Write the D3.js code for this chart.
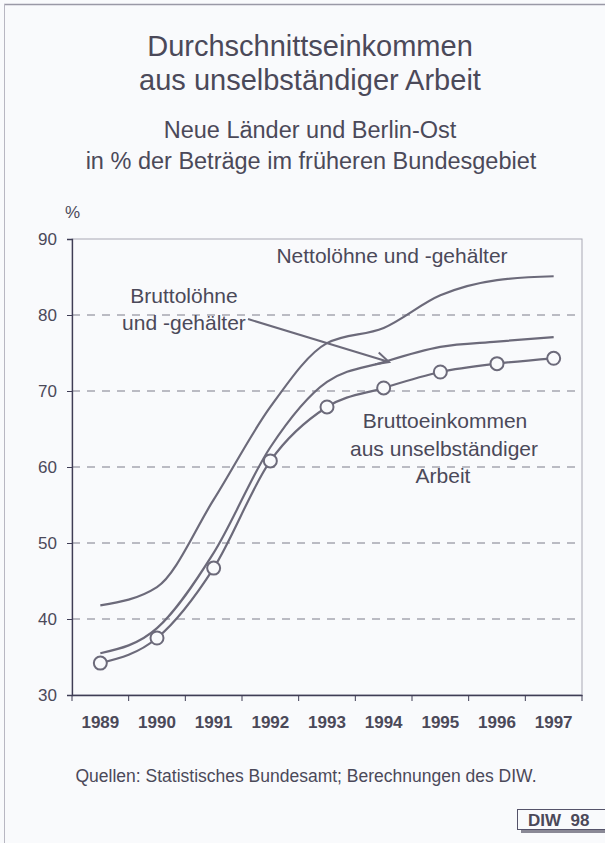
<!DOCTYPE html>
<html>
<head>
<meta charset="utf-8">
<script src="https://cdn.jsdelivr.net/npm/d3@7"></script>
<style>
  body { margin: 0; background: #f9fafc; }
  svg { display: block; font-family: "Liberation Sans", Arial, sans-serif; }
</style>
</head>
<body>
<div id="chart"></div>
<script>
const years = ["1989", "1990", "1991", "1992", "1993", "1994", "1995", "1996", "1997"];
const netto = [41.8, 44.2, 55.7, 67.9, 76.3, 78.3, 82.6, 84.6, 85.1];
const bruttoLoehne = [35.5, 38.8, 48.7, 62.6, 71.2, 73.8, 75.8, 76.5, 77.1];
const bruttoEinkommen = [34.2, 37.5, 46.7, 60.8, 67.9, 70.4, 72.5, 73.6, 74.3];
const yTicks = [30, 40, 50, 60, 70, 80, 90];

function init() {
    const w = 605, h = 843;
    const ink = "#4b4959";
    const lineCol = "#6c6a7a";

    const svg = d3.select("#chart").append("svg")
        .attr("width", w).attr("height", h);

    svg.append("rect").attr("width", w).attr("height", h).attr("fill", "#f9fafc");

    // page frame
    svg.append("line").attr("x1", 4).attr("x2", w).attr("y1", 4.5).attr("y2", 4.5)
        .attr("stroke", "#9a99a6").attr("stroke-width", 1.5);
    svg.append("line").attr("x1", 4.5).attr("x2", 4.5).attr("y1", 4).attr("y2", h)
        .attr("stroke", "#b8b7c2").attr("stroke-width", 1);

    // titles
    const title = svg.append("g").attr("fill", ink).attr("text-anchor", "middle");
    title.append("text").attr("x", 310).attr("y", 56).attr("font-size", 29).text("Durchschnittseinkommen");
    title.append("text").attr("x", 310).attr("y", 90).attr("font-size", 29).text("aus unselbständiger Arbeit");
    title.append("text").attr("x", 310).attr("y", 138).attr("font-size", 23.5).text("Neue Länder und Berlin-Ost");
    title.append("text").attr("x", 311).attr("y", 169).attr("font-size", 23.5).text("in % der Beträge im früheren Bundesgebiet");

    const x = d3.scaleBand().domain(years).range([72, 582]);
    const y = d3.scaleLinear().domain([30, 90]).range([695, 239]);

    // grid
    svg.append("g").selectAll("line")
        .data(yTicks.filter(d => d > 30 && d < 90))
        .enter().append("line")
        .attr("x1", 72).attr("x2", 582)
        .attr("y1", d => y(d)).attr("y2", d => y(d))
        .attr("stroke", "#7d7c8a").attr("stroke-width", 1)
        .attr("stroke-dasharray", "8,7");

    // plot frame
    svg.append("rect").attr("x", 72).attr("y", 239).attr("width", 510).attr("height", 456)
        .attr("fill", "none").attr("stroke", "#a9a8b4").attr("stroke-width", 1);

    const yAxis = svg.append("g").attr("transform", "translate(72,0)")
        .call(d3.axisLeft(y).tickValues(yTicks).tickSize(5).tickPadding(10));
    yAxis.select(".domain").attr("stroke", "#3f3d55").attr("stroke-width", 1.3);
    yAxis.selectAll(".tick line").attr("stroke", "#3f3d55");
    yAxis.selectAll("text").attr("font-size", 17).attr("fill", ink)
        .attr("font-family", "Liberation Sans, Arial, sans-serif");

    const xAxis = svg.append("g").attr("transform", "translate(0,695)")
        .call(d3.axisBottom(x).tickSize(0).tickPadding(21));
    xAxis.select(".domain").attr("stroke", "#3f3d55").attr("stroke-width", 1.3);
    xAxis.selectAll("text").attr("font-size", 17).attr("font-weight", "bold").attr("fill", ink)
        .attr("font-family", "Liberation Sans, Arial, sans-serif");
    // ticks at band boundaries
    svg.append("g").selectAll("line")
        .data(years.concat(["end"]))
        .enter().append("line")
        .attr("x1", (d, i) => 72 + i * x.step()).attr("x2", (d, i) => 72 + i * x.step())
        .attr("y1", 695).attr("y2", 701)
        .attr("stroke", "#3f3d55").attr("stroke-width", 1);

    svg.append("text").attr("x", 65).attr("y", 218).attr("font-size", 17)
        .attr("fill", ink).text("%");

    const cx = d => x(d) + x.bandwidth() / 2;
    const line = d3.line()
        .x(d => cx(d.year)).y(d => y(d.v))
        .curve(d3.curveMonotoneX);

    [netto, bruttoLoehne, bruttoEinkommen].forEach(function (series) {
        const pts = years.map((yr, i) => ({ year: yr, v: series[i] }));
        svg.append("path").attr("d", line(pts))
            .attr("fill", "none").attr("stroke", lineCol).attr("stroke-width", 2.2);
    });

    svg.append("g").selectAll("circle")
        .data(years.map((yr, i) => ({ year: yr, v: bruttoEinkommen[i] })))
        .enter().append("circle")
        .attr("cx", d => cx(d.year)).attr("cy", d => y(d.v)).attr("r", 6.5)
        .attr("fill", "#f9fafc").attr("stroke", lineCol).attr("stroke-width", 2);

    // labels
    const lab = svg.append("g").attr("fill", ink).attr("font-size", 21).attr("text-anchor", "middle");
    lab.append("text").attr("x", 392).attr("y", 263).text("Nettolöhne und -gehälter");
    lab.append("text").attr("x", 184).attr("y", 303).text("Bruttolöhne");
    lab.append("text").attr("x", 184).attr("y", 330).text("und -gehälter");
    lab.append("text").attr("x", 445).attr("y", 428).text("Bruttoeinkommen");
    lab.append("text").attr("x", 444).attr("y", 456).text("aus unselbständiger");
    lab.append("text").attr("x", 443).attr("y", 483).text("Arbeit");

    // arrow
    const ax0 = 248, ay0 = 319, ax1 = 389, ay1 = 362;
    svg.append("line").attr("x1", ax0).attr("y1", ay0).attr("x2", ax1).attr("y2", ay1)
        .attr("stroke", lineCol).attr("stroke-width", 2);
    const ang = Math.atan2(ay1 - ay0, ax1 - ax0);
    const hl = 14, ha = 0.45;
    svg.append("path")
        .attr("d", "M" + (ax1 - hl * Math.cos(ang - ha)) + "," + (ay1 - hl * Math.sin(ang - ha)) +
            "L" + ax1 + "," + ay1 +
            "L" + (ax1 - hl * Math.cos(ang + ha)) + "," + (ay1 - hl * Math.sin(ang + ha)))
        .attr("fill", "none").attr("stroke", lineCol).attr("stroke-width", 2);

    svg.append("text").attr("x", 306).attr("y", 782).attr("text-anchor", "middle")
        .attr("font-size", 17.5).attr("fill", ink)
        .text("Quellen: Statistisches Bundesamt; Berechnungen des DIW.");

    // DIW box
    svg.append("rect").attr("x", 521).attr("y", 829).attr("width", 84).attr("height", 4).attr("fill", "#8a8996");
    svg.append("rect").attr("x", 517.5).attr("y", 809.5).attr("width", 90).attr("height", 20)
        .attr("fill", "#f9fafc").attr("stroke", "#55536a").attr("stroke-width", 1);
    svg.append("text").attr("x", 528).attr("y", 826)
        .attr("font-size", 17).attr("font-weight", "bold").attr("fill", ink)
        .attr("xml:space", "preserve").text("DIW  98");
}

window.onload = init;
</script>
</body>
</html>
